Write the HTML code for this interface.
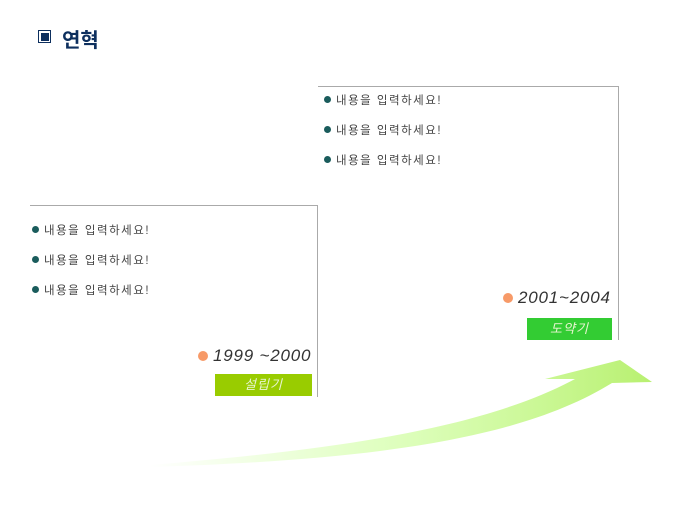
<!DOCTYPE html>
<html><head><meta charset="utf-8"><style>
body{margin:0;width:680px;height:510px;background:#fff;position:relative;overflow:hidden;font-family:"Liberation Sans","Noto Sans CJK KR",sans-serif}
.a{position:absolute}
.t{font-size:11.5px;color:#444;letter-spacing:1.5px;white-space:nowrap}
.b{width:7px;height:7px;border-radius:50%;background:#1a5c5c}
.o{width:10px;height:10px;border-radius:50%;background:#f79a68}
.d{font-size:17px;font-style:italic;color:#333;white-space:nowrap;letter-spacing:0.8px}
.g{color:#e8f5d0;font-size:13px;font-style:italic;text-align:center;line-height:22px;letter-spacing:1px}
</style></head><body>
<div class="a" style="left:38px;top:30px;width:11px;height:11px;border:1.5px solid #0d2f5e;background:#fff"></div>
<div class="a" style="left:41px;top:33px;width:8px;height:8px;background:#0d2f5e"></div>
<div class="a" style="left:62px;top:24px;font-size:20px;font-weight:bold;color:#0d2f5e">연혁</div>

<svg class="a" style="left:0;top:0" width="680" height="510">
<defs><linearGradient id="gr" x1="0" y1="0" x2="1" y2="0">
<stop offset="0" stop-color="#ccff99" stop-opacity="0"/><stop offset="0.45" stop-color="#ccff99" stop-opacity="0.6"/><stop offset="1" stop-color="#b8f070"/></linearGradient></defs>
<path d="M150 465 C330 450 480 430 575 379 L545 379 L620 360 L652 382 L612 383 C520 440 370 460 150 467 Z" fill="url(#gr)"/>
<line x1="30" y1="205.5" x2="317" y2="205.5" stroke="#aaa"/>
<line x1="317.5" y1="205" x2="317.5" y2="397" stroke="#aaa"/>
<line x1="318" y1="86.5" x2="618" y2="86.5" stroke="#aaa"/>
<line x1="618.5" y1="86" x2="618.5" y2="340" stroke="#aaa"/>
</svg>

<div class="a b" style="left:324px;top:96px"></div><div class="a t" style="left:336px;top:92px">내용을 입력하세요!</div>
<div class="a b" style="left:324px;top:126px"></div><div class="a t" style="left:336px;top:122px">내용을 입력하세요!</div>
<div class="a b" style="left:324px;top:156px"></div><div class="a t" style="left:336px;top:152px">내용을 입력하세요!</div>

<div class="a b" style="left:32px;top:226px"></div><div class="a t" style="left:44px;top:222px">내용을 입력하세요!</div>
<div class="a b" style="left:32px;top:256px"></div><div class="a t" style="left:44px;top:252px">내용을 입력하세요!</div>
<div class="a b" style="left:32px;top:286px"></div><div class="a t" style="left:44px;top:282px">내용을 입력하세요!</div>

<div class="a o" style="left:503px;top:293px"></div><div class="a d" style="left:518px;top:288px">2001~2004</div>
<div class="a g" style="left:527px;top:318px;width:85px;height:22px;background:#33cc33">도약기</div>
<div class="a o" style="left:198px;top:351px"></div><div class="a d" style="left:213px;top:346px">1999 ~2000</div>
<div class="a g" style="left:215px;top:374px;width:97px;height:22px;background:#99cc00">설립기</div>
</body></html>
